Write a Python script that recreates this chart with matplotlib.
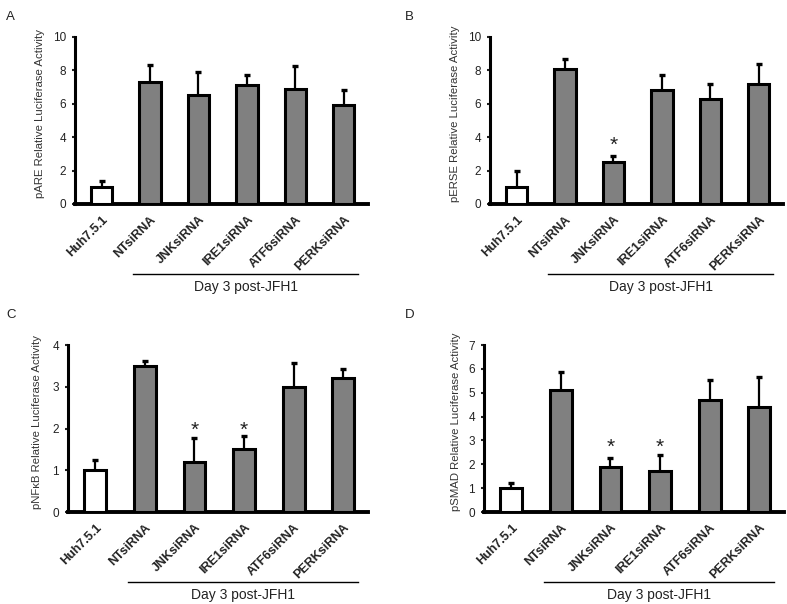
import numpy as np
import matplotlib
matplotlib.use("Agg")
import matplotlib.pyplot as plt
import matplotlib.transforms as mtransforms

plt.rcParams["font.family"] = ["Liberation Sans", "DejaVu Sans"]

groups = ["Huh7.5.1", "NTsiRNA", "JNKsiRNA", "IRE1siRNA", "ATF6siRNA", "PERKsiRNA"]

# panel A - pARE
are_mean = [1.0, 7.3, 6.5, 7.1, 6.9, 5.9]
are_top = [1.4, 8.35, 7.9, 7.7, 8.25, 6.85]

# panel B - pERSE
erse_mean = [1.0, 8.1, 2.5, 6.8, 6.3, 7.2]
erse_top = [1.95, 8.7, 2.9, 7.75, 7.2, 8.4]

# panel C - pNFkB
nfkb_mean = [1.0, 3.5, 1.2, 1.5, 3.0, 3.2]
nfkb_top = [1.25, 3.62, 1.77, 1.83, 3.58, 3.43]

# panel D - pSMAD
smad_mean = [1.0, 5.1, 1.9, 1.7, 4.7, 4.4]
smad_top = [1.23, 5.85, 2.25, 2.39, 5.53, 5.64]

panels = [
    ("A", "pARE Relative Luciferase Activity", are_mean, are_top, 10, [0, 2, 4, 6, 8, 10], {}),
    ("B", "pERSE Relative Luciferase Activity", erse_mean, erse_top, 10, [0, 2, 4, 6, 8, 10], {2: 2.95}),
    ("C", "pNF\u03baB Relative Luciferase Activity", nfkb_mean, nfkb_top, 4, [0, 1, 2, 3, 4], {2: 1.72, 3: 1.72}),
    ("D", "pSMAD Relative Luciferase Activity", smad_mean, smad_top, 7, [0, 1, 2, 3, 4, 5, 6, 7], {2: 2.3, 3: 2.3}),
]

# axes boxes [left, bottom, width, height], y-label x offsets and panel letter positions
boxes = [
    [0.0953, 0.6623, 0.3723, 0.2765],
    [0.6226, 0.6623, 0.3723, 0.2765],
    [0.0864, 0.1523, 0.3812, 0.2765],
    [0.6150, 0.1523, 0.3812, 0.2765],
]
label_x = [-0.102, -0.102, -0.087, -0.077]
letters_xy = [(0.008, 0.982), (0.515, 0.982), (0.008, 0.488), (0.515, 0.488)]

fig = plt.figure(figsize=(7.87, 6.04), dpi=100)

x = np.arange(len(groups))
colors = ["white"] + ["#808080"] * 5
shift = mtransforms.ScaledTranslation(0.05, 0, fig.dpi_scale_trans)

for (letter, ylabel, mean, top, ymax, yticks, stars), box, lx, lxy in zip(panels, boxes, label_x, letters_xy):
    ax = fig.add_axes(box)
    # error bars (upper only) behind the bars
    ax.vlines(x, mean, top, color="black", linewidth=1.6, zorder=2)
    ax.plot(x, top, ls="none", marker="_", markersize=5, markeredgewidth=2.4, color="black", zorder=2)
    ax.bar(x, mean, width=0.44, color=colors, edgecolor="black", linewidth=2.2, zorder=3)
    ax.set_xlim(-0.55, 5.5)
    ax.set_ylim(0, ymax)
    ax.set_yticks(yticks)
    ax.set_xticks(x)
    ax.set_xticklabels(groups, rotation=45, ha="right", rotation_mode="anchor",
                       fontsize=9, fontweight="bold", color="#222222")
    for lab in ax.get_xticklabels():
        lab.set_transform(lab.get_transform() + shift)
    ax.tick_params(axis="x", length=0, pad=7)
    ax.tick_params(axis="y", length=2.5, width=1.5, labelsize=8.5, pad=4, colors="#222222")
    for s in ["top", "right"]:
        ax.spines[s].set_visible(False)
    ax.spines["left"].set_linewidth(2.2)
    ax.spines["bottom"].set_linewidth(2.8)
    ax.set_ylabel(ylabel, fontsize=8.2, color="#333333")
    ax.yaxis.set_label_coords(lx, 0.54)

    for idx, h in stars.items():
        ax.text(idx, h, "*", ha="center", va="bottom", fontsize=15, color="#222222")

    trans = mtransforms.blended_transform_factory(ax.transData, ax.transAxes)
    ax.plot([0.65, 5.3], [-0.42, -0.42], color="black", lw=1.0, transform=trans, clip_on=False)
    ax.text(2.975, -0.495, "Day 3 post-JFH1", transform=trans, ha="center", va="center",
            fontsize=10, color="#222222")

    fig.text(lxy[0], lxy[1], letter, fontsize=9.5, ha="left", va="top", color="#222222")

fig.savefig("out.png", dpi=100)
